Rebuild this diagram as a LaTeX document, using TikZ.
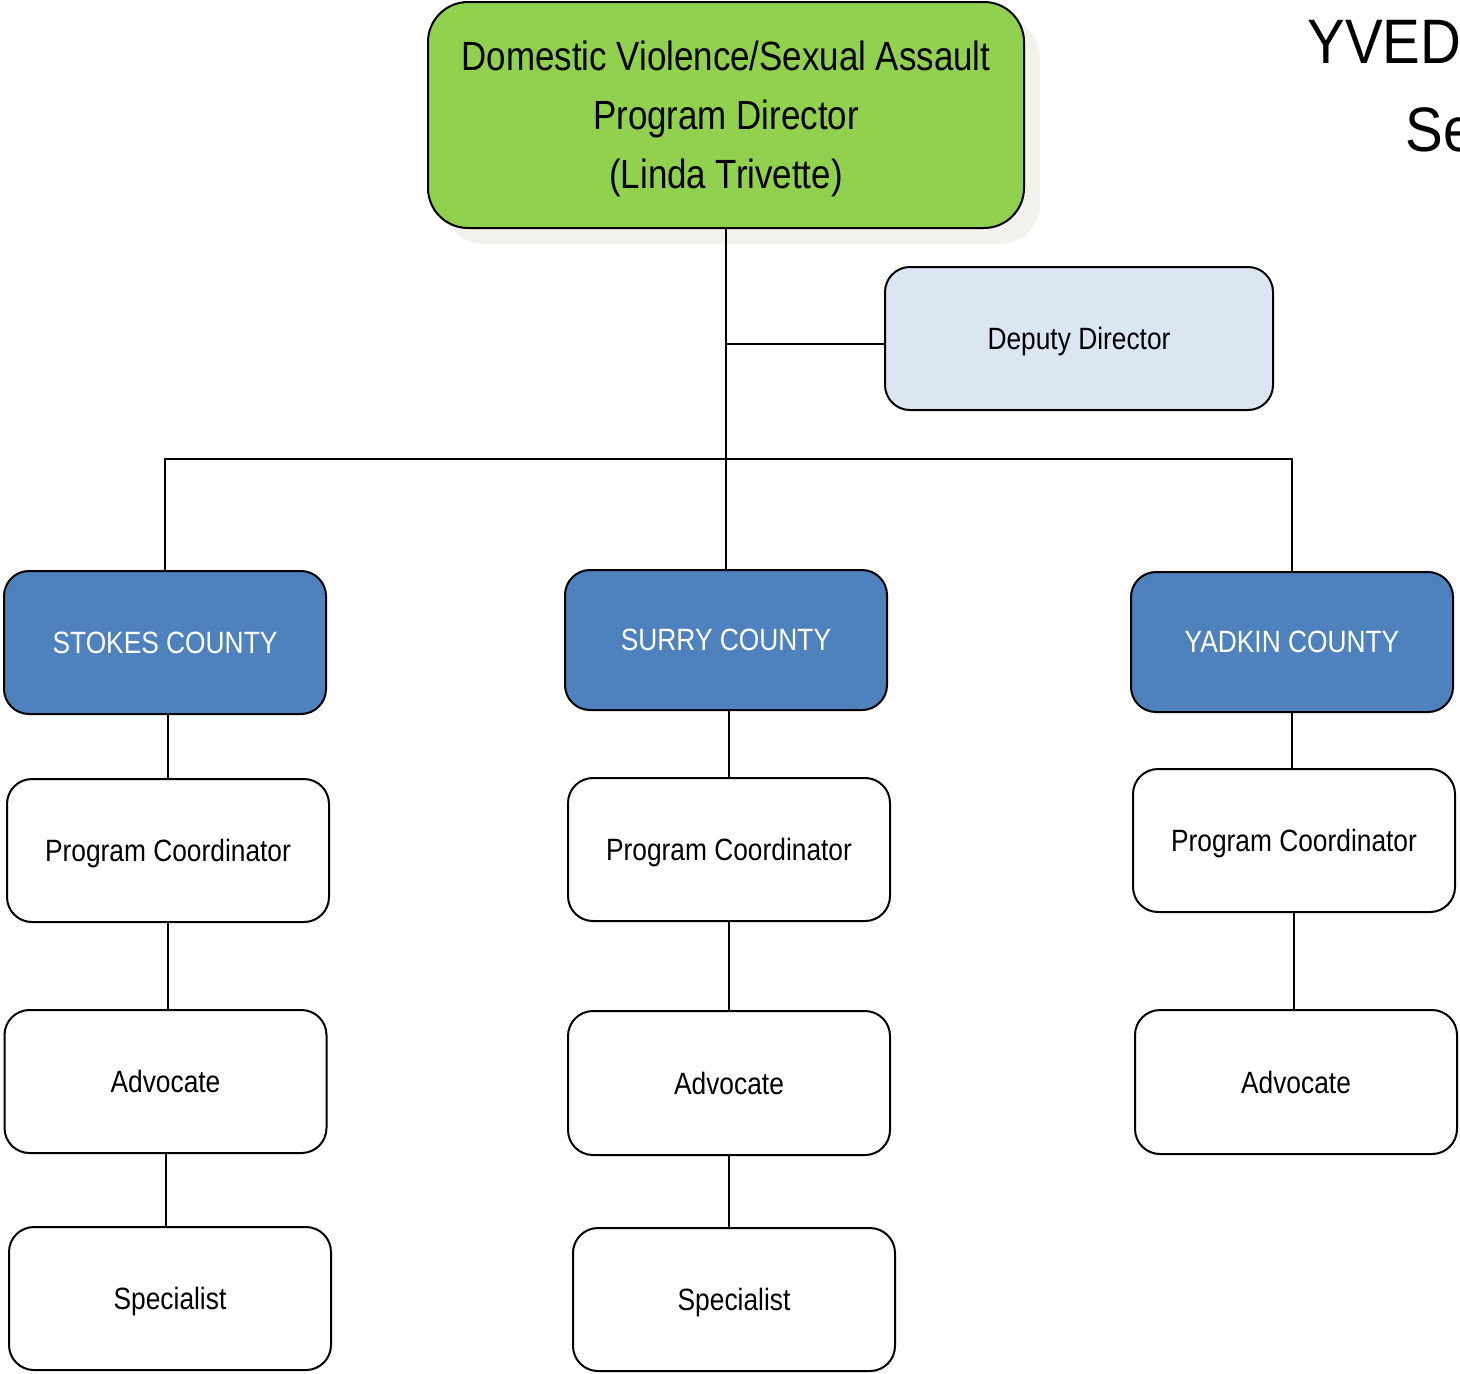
\documentclass[tikz,border=0pt]{standalone}
\usepackage{fontspec}
\setmainfont{Liberation Sans}[FakeStretch=0.855]
\newfontfamily\titlefont{Liberation Sans}[FakeStretch=0.9]
\definecolor{topgreen}{HTML}{92D050}
\definecolor{cblue}{HTML}{4F81BD}
\definecolor{depblue}{HTML}{DCE6F2}
\definecolor{shadowc}{HTML}{F2F1EC}
\begin{document}
\begin{tikzpicture}[x=0.5pt,y=-0.5pt,
  box/.style={draw=black,line width=1pt,rounded corners=12.5pt,minimum width=161pt,minimum height=71.5pt,inner sep=0pt,align=center,font=\fontsize{15.4}{18}\selectfont,fill=white,text depth=0pt},
  county/.style={box,fill=cblue,text=white},
  conn/.style={draw=black,line width=1pt}]
\useasboundingbox (0,0) rectangle (1460,1373);
\clip (0,0) rectangle (1460,1373);
% shadow of top box
\fill[shadowc,rounded corners=20pt] (444,18) rectangle (1040,244);
\node[box,fill=topgreen,rounded corners=20pt,minimum width=298pt,minimum height=113pt,font=\fontsize{20.4}{29.5}\selectfont] (top) at (726,115)
  {Domestic Violence/Sexual Assault\\Program Director\\(Linda Trivette)};
\node[box,fill=depblue,minimum width=194pt] (dep) at (1079,338.5) {Deputy Director};
\node[county] (stokes) at (165,642.5) {STOKES COUNTY};
\node[county,minimum height=70pt] (surry) at (726,640) {SURRY COUNTY};
\node[county,minimum height=70pt] (yadkin) at (1292,642) {YADKIN COUNTY};
\node[box] (spc) at (168,850.5) {Program Coordinator};
\node[box] (upc) at (729,849.5) {Program Coordinator};
\node[box] (ypc) at (1294,840.5) {Program Coordinator};
\node[box] (sadv) at (165.5,1081.5) {Advocate};
\node[box,minimum height=72pt] (uadv) at (729,1083) {Advocate};
\node[box,minimum height=72pt] (yadv) at (1296,1082) {Advocate};
\node[box] (sspec) at (170,1298.5) {Specialist};
\node[box] (uspec) at (734,1299.5) {Specialist};
% title (cut off at right edge)
\node[anchor=base west,inner sep=0pt,font=\titlefont\fontsize{31.4}{36}\selectfont] (t1) at (1307,63) {YVEDD};
\node[anchor=base west,inner sep=0pt,font=\titlefont\fontsize{31.4}{36}\selectfont] (t2) at (1405,151) {Se};
% connectors
\coordinate (j) at (726,459);
\draw[conn] (top.south) -- (surry.north);
\draw[conn] ([yshift=-2.5pt]dep.west) -- ([yshift=-2.5pt]dep.west -| top.south);
\draw[conn] (stokes.north) |- (j) -| (yadkin.north);
\draw[conn] (spc.north) -- (spc.north |- stokes.south);
\draw[conn] (sadv.north -| spc.south) -- (spc.south);
\draw[conn] (sadv.south) -- (sadv.south |- sspec.north);
\draw[conn] (upc.north) -- (upc.north |- surry.south);
\draw[conn] (upc.south) -- (upc.south |- uadv.north);
\draw[conn] (uspec.north -| uadv.south) -- (uadv.south);
\draw[conn] (ypc.north -| yadkin.south) -- (yadkin.south);
\draw[conn] (ypc.south) -- (ypc.south |- yadv.north);
\end{tikzpicture}
\end{document}
